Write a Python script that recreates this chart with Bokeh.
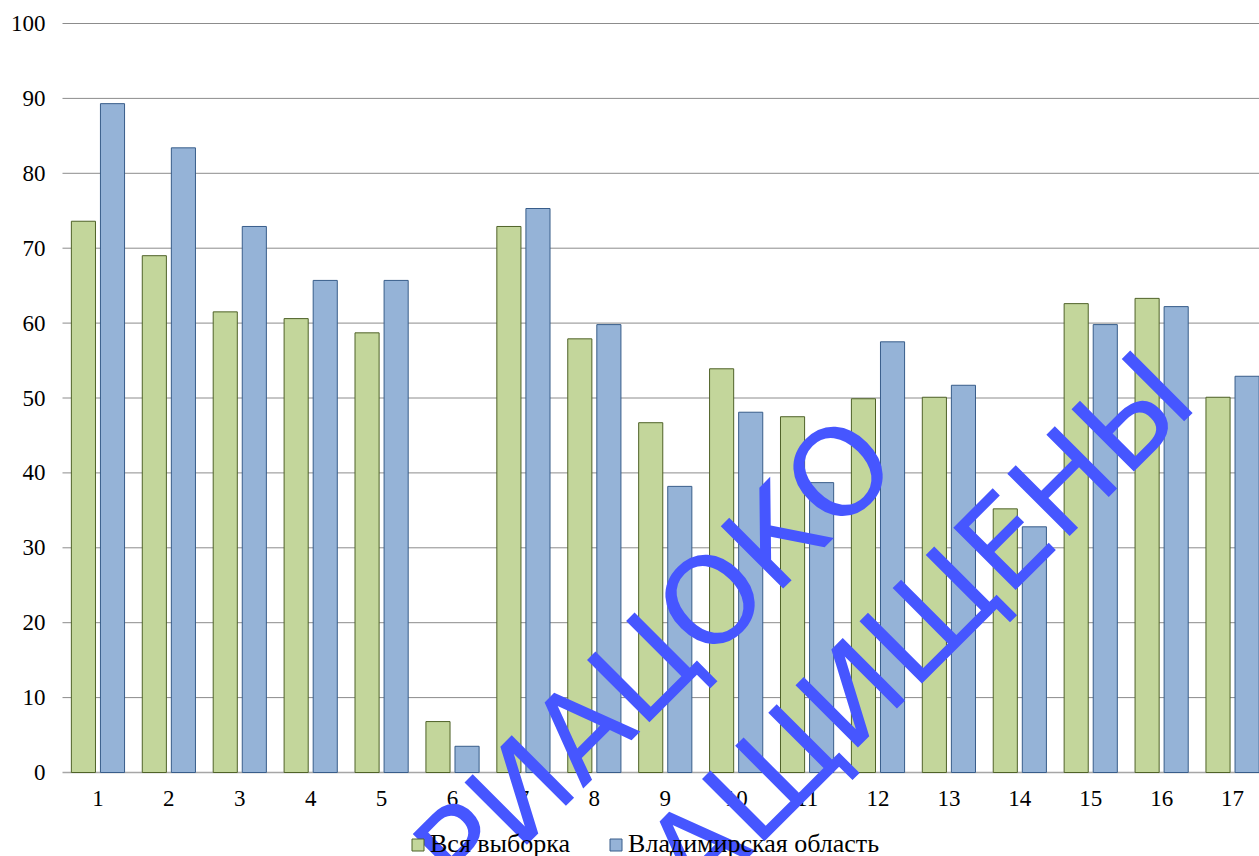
from bokeh.plotting import figure
from bokeh.models import ColumnDataSource, Range1d, Legend, LegendItem
from bokeh.core.properties import value
from bokeh.transform import dodge
from bokeh.embed import file_html
from bokeh.resources import INLINE

# ---- data ----
categories = list(range(1, 18))
all_sample = [73.6, 69.0, 61.5, 60.6, 58.7, 6.8, 72.9, 57.9, 46.7, 53.9, 47.5, 49.9, 50.1, 35.2, 62.6, 63.3, 50.1]
vladimir = [89.3, 83.4, 72.9, 65.7, 65.7, 3.5, 75.3, 59.8, 38.2, 48.1, 38.7, 57.5, 51.7, 32.8, 59.8, 62.2, 52.9]
series_names = ["Вся выборка", "Владимирская область"]
y_ticks = list(range(0, 101, 10))
x_tick_labels = [str(c) for c in categories]
y_tick_labels = [str(t) for t in y_ticks]
watermark_lines = ["РИАЦОКО", "ЗАЩИЩЕНЫ"]

# ---- layout (pixels) ----
W, H = 1259, 856
PLOT_LEFT, PLOT_TOP, PLOT_ZERO = 62, 23, 772
CAT_LO, CAT_HI = 0.5, 17.38
ppx = (W - PLOT_LEFT) / (CAT_HI - CAT_LO)
ppy = (PLOT_ZERO - PLOT_TOP) / 100.0
x_start = CAT_LO - PLOT_LEFT / ppx
y_start = -(H - PLOT_ZERO) / ppy
y_end = 100 + PLOT_TOP / ppy

def dx(px):
    return x_start + px / ppx

def dy(py):
    return y_end - py / ppy

FONT = "Liberation Serif"

p = figure(width=W, height=H, output_backend="svg", toolbar_location=None,
           x_range=Range1d(x_start, CAT_HI), y_range=Range1d(y_start, y_end),
           x_axis_location=None, y_axis_location=None,
           min_border=0, min_border_left=0, min_border_right=0,
           min_border_top=0, min_border_bottom=0)
p.outline_line_color = None
p.xgrid.visible = False
p.ygrid.visible = False
p.background_fill_color = "white"
p.border_fill_color = "white"

# grid lines
grid_src = ColumnDataSource(dict(y=y_ticks[1:]))
p.segment(x0=CAT_LO, x1=CAT_HI, y0="y", y1="y", source=grid_src,
          line_color="#8C8C8C", line_width=1, level="underlay")
# x axis line
p.segment(x0=[CAT_LO], x1=[CAT_HI], y0=[0], y1=[0],
          line_color="#A6A6A6", line_width=1.5, level="underlay")

src = ColumnDataSource(dict(cat=categories, a=all_sample, b=vladimir))
r1 = p.vbar(x=dodge("cat", -0.205), top="a", width=0.34, source=src,
            fill_color="#C3D69B", line_color="#4F6228", line_width=1)
r2 = p.vbar(x=dodge("cat", 0.205), top="b", width=0.34, source=src,
            fill_color="#95B3D7", line_color="#385D8A", line_width=1)

# tick labels
ysrc = ColumnDataSource(dict(y=y_ticks, t=y_tick_labels))
p.text(x=CAT_LO - 17 / ppx, y="y", text="t", source=ysrc,
       text_font=value(FONT), text_font_size=value("23px"), text_color="black",
       text_align="right", text_baseline="middle")
xsrc = ColumnDataSource(dict(x=categories, t=x_tick_labels))
p.text(x="x", y=-26 / ppy, text="t", source=xsrc,
       text_font=value(FONT), text_font_size=value("23px"), text_color="black",
       text_align="center", text_baseline="middle")

legend = Legend(items=[LegendItem(label=series_names[0], renderers=[r1]),
                       LegendItem(label=series_names[1], renderers=[r2])],
                orientation="horizontal", location=(410, -3),
                label_text_font=FONT, label_text_font_size="26px", label_text_color="black",
                glyph_width=15, glyph_height=15, spacing=38, label_standoff=5,
                border_line_color=None, background_fill_alpha=0, padding=0, margin=0)
p.add_layout(legend, "center")

# watermark
wm_src = ColumnDataSource(dict(x=[dx(655), dx(892)], y=[dy(657), dy(654)], t=watermark_lines))
p.text(x="x", y="y", text="t", source=wm_src, angle=45, angle_units="deg",
       text_font=value("DejaVu Sans"), text_font_size=value("121px"),
       text_color="#4656FF", text_align="center", text_baseline="middle", level="overlay")

open("out.html", "w").write(file_html(p, INLINE))
